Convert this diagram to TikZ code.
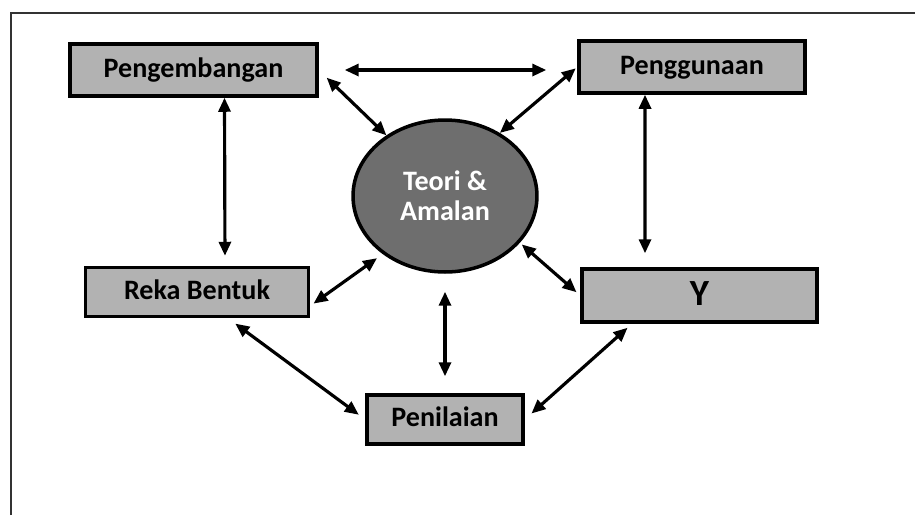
\documentclass[tikz,border=0pt]{standalone}
\usepackage{fontspec}
\setmainfont{Carlito}
\usetikzlibrary{shapes,arrows.meta}

\begin{document}
\begin{tikzpicture}[x=0.02cm, y=-0.02cm]
		\tikzstyle{box} = [rectangle, draw=black, line width=2pt, fill=black!30, font=\bfseries\fontsize{16}{19}\selectfont, inner sep=0pt, text height=11pt, text depth=3pt]
		\tikzstyle{core} = [ellipse, draw=black, line width=2pt, fill=black!57, text=white, align=center, font=\bfseries\fontsize{16}{17}\selectfont, minimum width=3.68cm, minimum height=3.04cm]
		\tikzstyle{link} = [line width=1.8pt, {Triangle[length=0.28cm,width=0.24cm]}-{Triangle[length=0.28cm,width=0.24cm]}]

		% frame
		\useasboundingbox (0, 0) rectangle (915, 515);
		\draw[line width=0.8pt, black!80] (11, 515) -- (11, 13) -- (915, 13);

		% boxes
		\node[box, minimum width=4.94cm, minimum height=1.04cm] (dev) at (193.5, 70) {Pengembangan};
		\node[box, minimum width=4.52cm, minimum height=1.04cm] (use) at (692, 67) {Penggunaan};
		\node[box, minimum width=4.46cm, minimum height=0.98cm] (design) at (197, 292) {Reka Bentuk};
		\node[box, minimum width=4.70cm, minimum height=1.06cm, font=\bfseries\fontsize{21}{24}\selectfont, text height=14pt] (y) at (699.5, 295.5) {Y};
		\node[box, minimum width=3.12cm, minimum height=0.98cm] (eval) at (445, 419.5) {Penilaian};

		% centre
		\node[core] (theory) at (445, 196) {Teori \&\\Amalan};

		% top connections
		\draw[link, shorten <=0.52cm, shorten >=0.62cm] (dev.east) -- (dev.east -| use.west);
		\draw[link, shorten <=0.22cm] (dev.east) -- (theory.134);
		\draw[link, shorten <=0.04cm] (use.west) -- (theory.49);

		% side connections
		\draw[link, shorten >=0.2cm] ([xshift=0.62cm]dev.south) -- ([xshift=0.56cm]design.north);
		\draw[link, shorten >=0.28cm] ([xshift=-0.94cm]use.south) -- ([xshift=-1.09cm]y.north);
		\draw[link, shorten <=0.14cm, shorten >=0.08cm] (theory.223) -- (design.-7);
		\draw[link, shorten <=0.05cm, shorten >=0.1cm] (theory.-32) -- (y.west);

		% bottom connections
		\draw[link, shorten <=0.36cm, shorten >=0.34cm] (theory.south) -- (eval.north);
		\draw[link, shorten <=0.18cm, shorten >=0.16cm] ([xshift=0.62cm]design.south) -- (eval.west);
		\draw[link, shorten <=0.12cm, shorten >=0.18cm] ([xshift=-1.35cm]y.south) -- (eval.east);
	\end{tikzpicture}
\end{document}
